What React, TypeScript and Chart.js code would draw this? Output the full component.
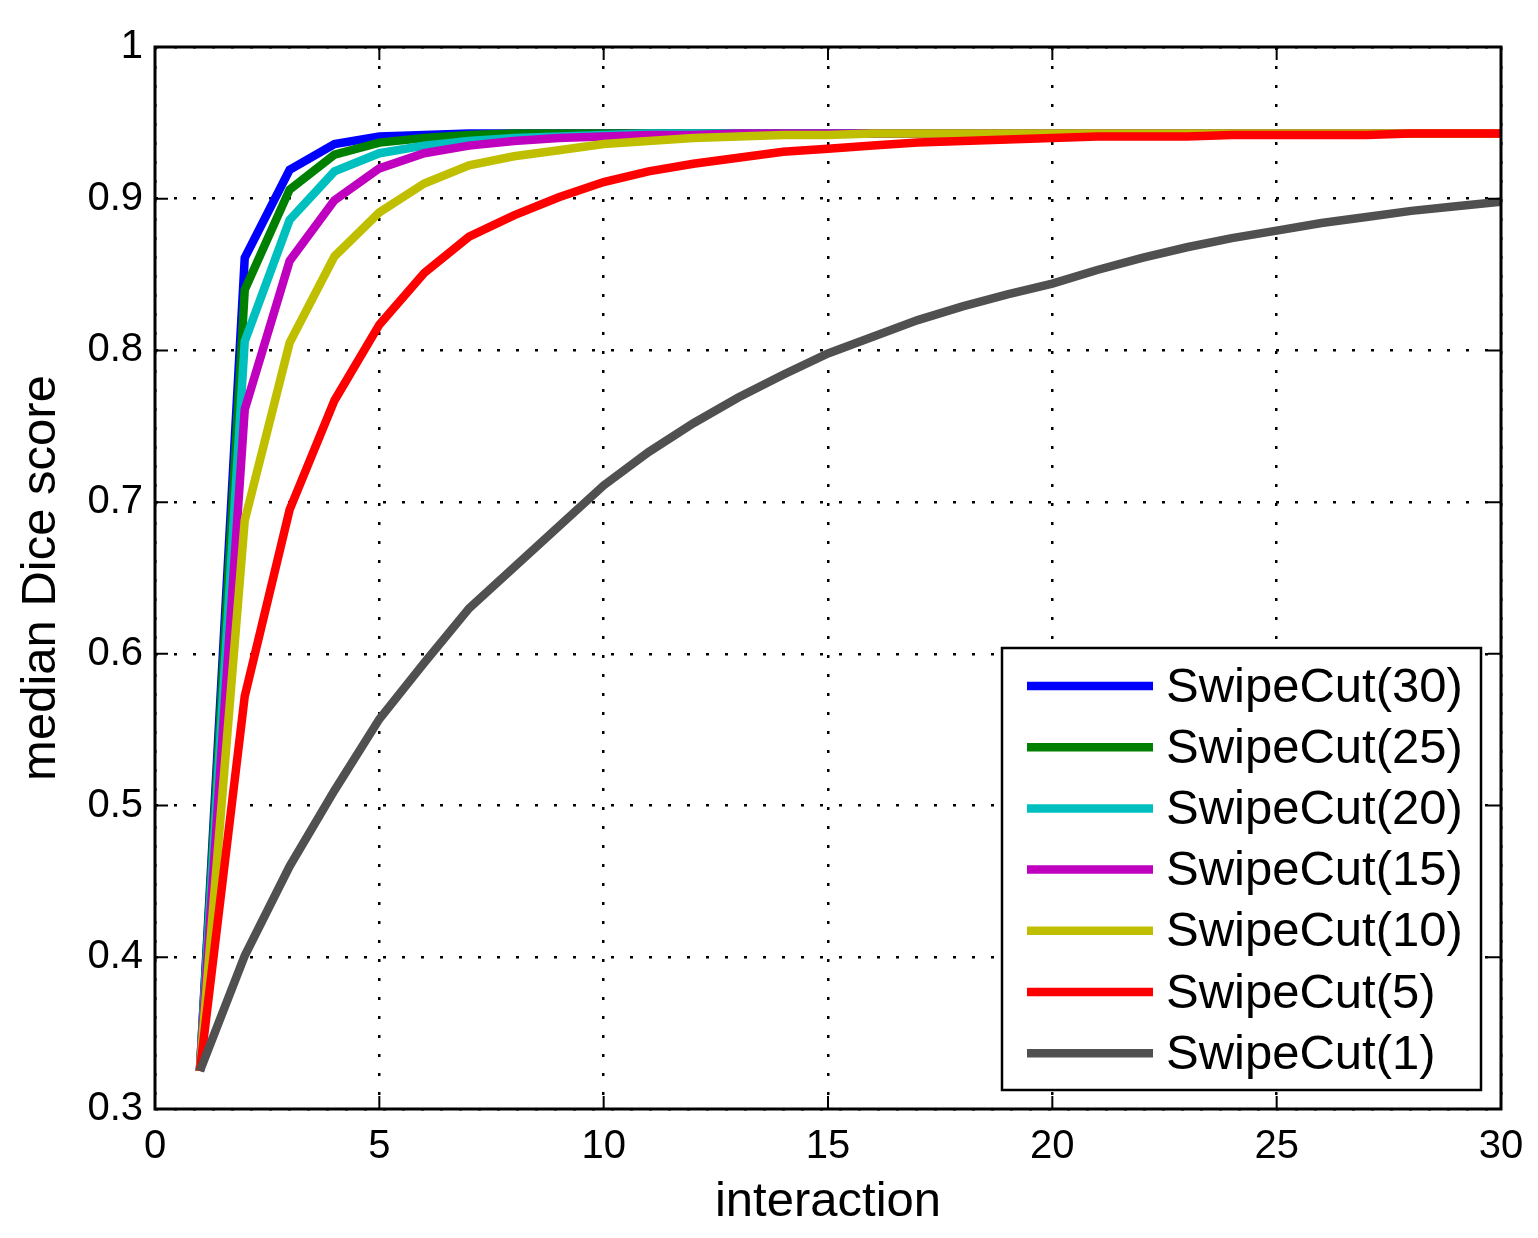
import { useEffect, useRef } from 'react';
import { Chart, registerables } from 'chart.js';

Chart.register(...registerables);

// x positions (interaction number)
const interactions = [
  1, 2, 3, 4, 5, 6, 7, 8, 9, 10, 11, 12, 13, 14, 15,
  16, 17, 18, 19, 20, 21, 22, 23, 24, 25, 26, 27, 28, 29, 30,
];

const seriesNames = [
  'SwipeCut(30)',
  'SwipeCut(25)',
  'SwipeCut(20)',
  'SwipeCut(15)',
  'SwipeCut(10)',
  'SwipeCut(5)',
  'SwipeCut(1)',
];

const seriesColors = ['#0000ff', '#008000', '#00bfbf', '#bf00bf', '#bfbf00', '#ff0000', '#505050'];

// median Dice score per interaction
const swipe30 = [
  0.325, 0.861, 0.919, 0.936, 0.941, 0.942, 0.943, 0.943, 0.943, 0.943,
  0.943, 0.943, 0.943, 0.943, 0.943, 0.943, 0.943, 0.943, 0.943, 0.943,
  0.943, 0.943, 0.943, 0.943, 0.943, 0.943, 0.943, 0.943, 0.943, 0.943,
];
const swipe25 = [
  0.325, 0.840, 0.906, 0.929, 0.937, 0.940, 0.942, 0.943, 0.943, 0.943,
  0.943, 0.943, 0.943, 0.943, 0.943, 0.943, 0.943, 0.943, 0.943, 0.943,
  0.943, 0.943, 0.943, 0.943, 0.943, 0.943, 0.943, 0.943, 0.943, 0.943,
];
const swipe20 = [
  0.325, 0.806, 0.886, 0.918, 0.930, 0.935, 0.938, 0.940, 0.941, 0.942,
  0.943, 0.943, 0.943, 0.943, 0.943, 0.943, 0.943, 0.943, 0.943, 0.943,
  0.943, 0.943, 0.943, 0.943, 0.943, 0.943, 0.943, 0.943, 0.943, 0.943,
];
const swipe15 = [
  0.325, 0.761, 0.859, 0.899, 0.920, 0.930, 0.935, 0.938, 0.940, 0.941,
  0.942, 0.942, 0.943, 0.943, 0.943, 0.943, 0.943, 0.943, 0.943, 0.943,
  0.943, 0.943, 0.943, 0.943, 0.943, 0.943, 0.943, 0.943, 0.943, 0.943,
];
const swipe10 = [
  0.325, 0.688, 0.805, 0.862, 0.891, 0.910, 0.922, 0.928, 0.932, 0.936,
  0.938, 0.940, 0.941, 0.942, 0.942, 0.943, 0.943, 0.943, 0.943, 0.943,
  0.943, 0.943, 0.943, 0.943, 0.943, 0.943, 0.943, 0.943, 0.943, 0.943,
];
const swipe5 = [
  0.325, 0.572, 0.695, 0.767, 0.817, 0.851, 0.875, 0.889, 0.901, 0.911,
  0.918, 0.923, 0.927, 0.931, 0.933, 0.935, 0.937, 0.938, 0.939, 0.940,
  0.941, 0.941, 0.941, 0.942, 0.942, 0.942, 0.942, 0.943, 0.943, 0.943,
];
const swipe1 = [
  0.325, 0.401, 0.460, 0.510, 0.557, 0.594, 0.630, 0.657, 0.684, 0.711,
  0.733, 0.752, 0.769, 0.784, 0.798, 0.809, 0.820, 0.829, 0.837, 0.844,
  0.853, 0.861, 0.868, 0.874, 0.879, 0.884, 0.888, 0.892, 0.895, 0.898,
];

const seriesValues = [swipe30, swipe25, swipe20, swipe15, swipe10, swipe5, swipe1];

const xTicks = [0, 5, 10, 15, 20, 25, 30];
const yTicks = [0.3, 0.4, 0.5, 0.6, 0.7, 0.8, 0.9, 1];

const FONT = '"Liberation Sans", Arial, Helvetica, sans-serif';

// box around the plot with inward ticks (matlab style)
const boxPlugin = {
  id: 'box',
  afterDatasetsDraw(chart: any) {
    const { ctx, chartArea: a, scales } = chart;
    ctx.save();
    ctx.strokeStyle = '#000';
    ctx.lineWidth = 3;
    ctx.strokeRect(a.left, a.top, a.right - a.left, a.bottom - a.top);
    ctx.lineWidth = 2;
    ctx.beginPath();
    xTicks.forEach((v) => {
      const px = scales.x.getPixelForValue(v);
      ctx.moveTo(px, a.bottom);
      ctx.lineTo(px, a.bottom - 13);
      ctx.moveTo(px, a.top);
      ctx.lineTo(px, a.top + 13);
    });
    yTicks.forEach((v) => {
      const py = scales.y.getPixelForValue(v);
      ctx.moveTo(a.left, py);
      ctx.lineTo(a.left + 13, py);
      ctx.moveTo(a.right, py);
      ctx.lineTo(a.right - 13, py);
    });
    ctx.stroke();
    ctx.restore();
  },
};

// legend box in the lower right corner of the plot
const legendPlugin = {
  id: 'boxLegend',
  afterDraw(chart: any) {
    const { ctx, chartArea: a } = chart;
    const w = 479;
    const h = 442;
    const x0 = a.right - 20 - w;
    const y0 = a.bottom - 19 - h;
    ctx.save();
    ctx.fillStyle = '#fff';
    ctx.fillRect(x0, y0, w, h);
    ctx.strokeStyle = '#000';
    ctx.lineWidth = 2.5;
    ctx.strokeRect(x0, y0, w, h);
    ctx.font = `49px ${FONT}`;
    ctx.textBaseline = 'middle';
    ctx.textAlign = 'left';
    chart.data.datasets.forEach((ds: any, i: number) => {
      const y = y0 + 38 + i * 61.2;
      ctx.strokeStyle = ds.borderColor;
      ctx.lineWidth = 8.5;
      ctx.beginPath();
      ctx.moveTo(x0 + 25, y);
      ctx.lineTo(x0 + 151, y);
      ctx.stroke();
      ctx.fillStyle = '#000';
      ctx.fillText(ds.label, x0 + 164, y + 2);
    });
    ctx.restore();
  },
};

export default function App() {
  const canvasRef = useRef<HTMLCanvasElement | null>(null);

  useEffect(() => {
    if (!canvasRef.current) return;

    const datasets = seriesNames.map((name, i) => ({
      label: name,
      data: interactions.map((x, j) => ({ x, y: seriesValues[i][j] })),
      borderColor: seriesColors[i],
      backgroundColor: seriesColors[i],
      borderWidth: 8.5,
      pointRadius: 0,
      tension: 0,
      fill: false,
      order: seriesNames.length - i,
      borderJoinStyle: 'miter' as const,
    }));

    const chart = new Chart(canvasRef.current, {
      type: 'line',
      data: { datasets },
      options: {
        animation: false,
        responsive: true,
        maintainAspectRatio: false,
        layout: { padding: { top: 47, right: 37, left: 0, bottom: 0 } },
        plugins: {
          legend: { display: false },
          tooltip: { enabled: false },
        },
        scales: {
          x: {
            type: 'linear',
            min: 0,
            max: 30,
            afterBuildTicks: (scale: any) => {
              scale.ticks = xTicks.map((v) => ({ value: v }));
            },
            afterFit: (scale: any) => {
              scale.height = 129;
            },
            ticks: {
              color: '#000',
              padding: 14,
              maxRotation: 0,
              font: { family: FONT, size: 40 },
            },
            grid: { color: '#000', lineWidth: 2.5, drawTicks: false },
            border: { display: false, dash: [3, 16] },
            title: {
              display: true,
              text: 'interaction',
              color: '#000',
              font: { family: FONT, size: 49 },
              padding: { top: 0, bottom: 6 },
            },
          },
          y: {
            min: 0.3,
            max: 1,
            afterBuildTicks: (scale: any) => {
              scale.ticks = yTicks.map((v) => ({ value: v }));
            },
            afterFit: (scale: any) => {
              scale.width = 155;
            },
            ticks: {
              color: '#000',
              padding: 12,
              font: { family: FONT, size: 40 },
              callback: (v: any) => String(Number(Number(v).toFixed(1))),
            },
            grid: { color: '#000', lineWidth: 2.5, drawTicks: false },
            border: { display: false, dash: [3, 16] },
            title: {
              display: true,
              text: 'median Dice score',
              color: '#000',
              font: { family: FONT, size: 49 },
              padding: { top: 12, bottom: 0 },
            },
          },
        },
      },
      plugins: [boxPlugin, legendPlugin],
    });

    return () => {
      chart.destroy();
    };
  }, []);

  return (
    <div style={{ position: 'fixed', left: 0, top: 0, width: 1538, height: 1238, background: '#fff' }}>
      <canvas ref={canvasRef}></canvas>
    </div>
  );
}
